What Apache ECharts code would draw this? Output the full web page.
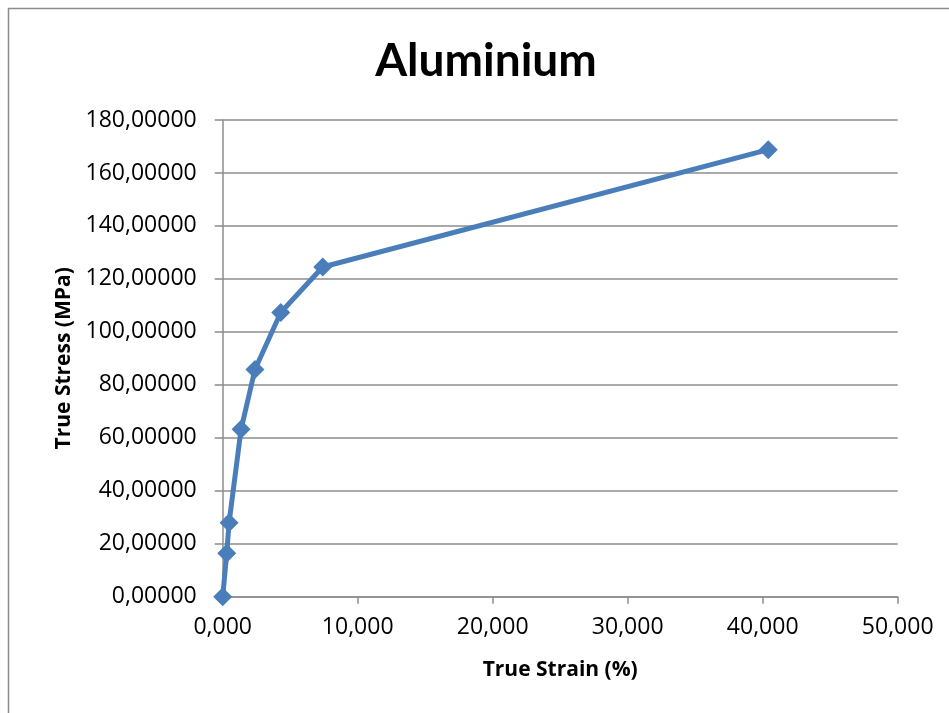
<!DOCTYPE html>
<html>
<head>
<meta charset="utf-8">
<script src="https://cdn.jsdelivr.net/npm/echarts@6/dist/echarts.min.js"></script>
<style>
  html, body { margin: 0; padding: 0; background: #fff; }
  #chart { width: 949px; height: 713px; }
</style>
</head>
<body>
<div id="chart"></div>
<script>
// True strain (%) and true stress (MPa) for the aluminium specimen
const strainPct = [0, 0.30, 0.47, 1.36, 2.39, 4.30, 7.41, 40.41];
const stressMPa = [0, 16.4, 27.9, 63.2, 85.8, 107.3, 124.5, 168.8];

const chartTitle = 'Aluminium';
const xAxisTitle = 'True Strain (%)';
const yAxisTitle = 'True Stress (MPa)';

const TITLE_FONT = 'Lato, "Open Sans", sans-serif';
const FONT = '"Open Sans", Lato, sans-serif';
const points = strainPct.map((x, i) => [x, stressMPa[i]]);

const chart = echarts.init(document.getElementById('chart'), null, { renderer: 'canvas' });
chart.setOption({
  backgroundColor: '#ffffff',
  animation: false,
  graphic: [{
    type: 'rect',
    shape: { x: 8.5, y: 8.5, width: 1200, height: 1200 },
    style: { fill: 'none', stroke: '#8c8c8c', lineWidth: 1.5 },
    silent: true
  }],
  title: {
    text: chartTitle,
    left: 481,
    textAlign: 'center',
    top: 33,
    textStyle: { fontFamily: TITLE_FONT, fontWeight: 'bold', fontSize: 46, color: '#000' }
  },
  grid: { left: 222.7, right: 51.3, top: 120, bottom: 116.3, containLabel: false },
  xAxis: {
    type: 'value',
    min: 0, max: 50, interval: 10,
    name: xAxisTitle,
    nameLocation: 'middle',
    nameGap: 63,
    nameTextStyle: { fontFamily: FONT, fontWeight: 'bold', fontSize: 21, color: '#000' },
    axisLine: { show: true, lineStyle: { color: '#8c8c8c', width: 1.5 } },
    axisTick: { show: true, inside: false, length: 7, lineStyle: { color: '#8c8c8c', width: 1.5 } },
    axisLabel: {
      margin: 19,
      fontFamily: FONT, fontSize: 23, color: '#000',
      formatter: v => v.toFixed(3).replace('.', ',')
    },
    splitLine: { show: false }
  },
  yAxis: {
    type: 'value',
    min: 0, max: 180, interval: 20,
    name: yAxisTitle,
    nameLocation: 'middle',
    nameGap: 148,
    nameRotate: 90,
    nameTextStyle: { fontFamily: FONT, fontWeight: 'bold', fontSize: 21, color: '#000' },
    axisLine: { show: true, lineStyle: { color: '#8c8c8c', width: 1.5 } },
    axisTick: { show: true, inside: false, length: 8, lineStyle: { color: '#8c8c8c', width: 1.5 } },
    axisLabel: {
      margin: 26,
      fontFamily: FONT, fontSize: 23, color: '#000',
      formatter: v => v.toFixed(5).replace('.', ',')
    },
    splitLine: { show: true, lineStyle: { color: '#8c8c8c', width: 1.5 } }
  },
  series: [{
    type: 'line',
    data: points,
    symbol: 'diamond',
    symbolSize: 19,
    showSymbol: true,
    lineStyle: { color: '#4a7ebb', width: 5 },
    itemStyle: { color: '#4a7ebb' },
    z: 3
  }]
});
</script>
</body>
</html>
